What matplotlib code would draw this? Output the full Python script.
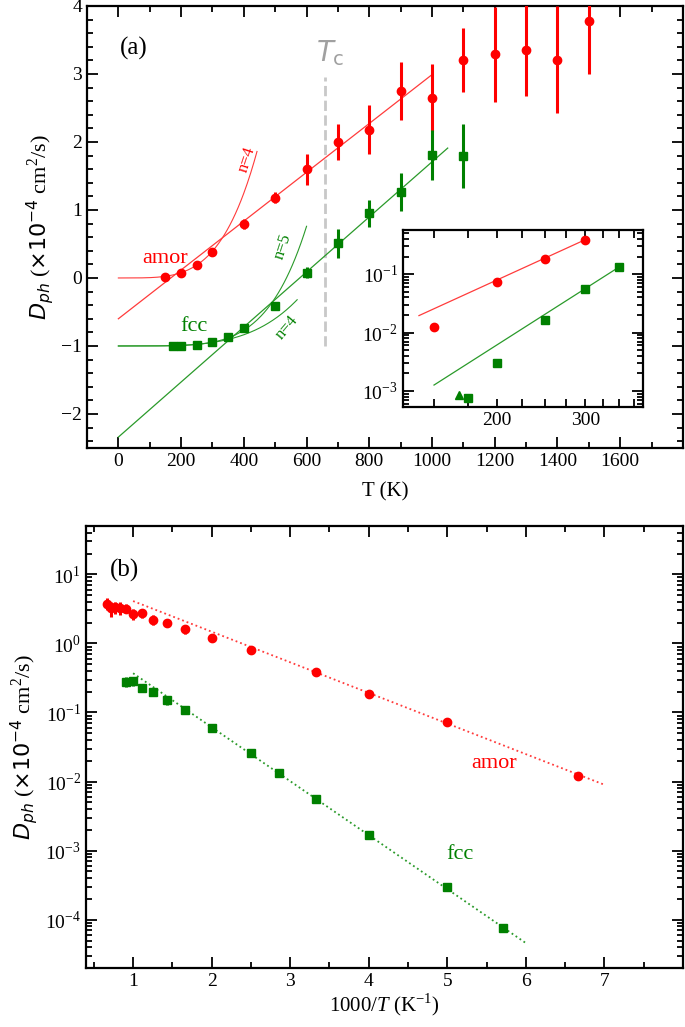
import numpy as np
import matplotlib.pyplot as plt
from matplotlib.ticker import MultipleLocator, FixedLocator, FuncFormatter, NullFormatter

plt.rcParams['font.family'] = ['Liberation Serif', 'DejaVu Sans']
plt.rcParams['mathtext.fontset'] = 'custom'
plt.rcParams['mathtext.rm'] = 'Liberation Serif'
plt.rcParams['mathtext.it'] = 'DejaVu Sans:italic'
plt.rcParams['mathtext.sf'] = 'DejaVu Sans'
plt.rcParams['mathtext.cal'] = 'Liberation Serif:italic'

#datos

T_amor = np.array([150, 200, 250, 300, 400, 500, 600, 700, 800, 900, 1000, 1100, 1200, 1300, 1400, 1500])
D_amor = np.array([0.0122, 0.072, 0.185, 0.38, 0.79, 1.18, 1.60, 2.00, 2.18, 2.75, 2.65, 3.20, 3.29, 3.35, 3.21, 3.78])
E_amor = np.array([0.001, 0.003, 0.008, 0.015, 0.07, 0.08, 0.23, 0.27, 0.36, 0.42, 0.49, 0.47, 0.70, 0.67, 0.79, 0.78])

T_fcc = np.array([175, 200, 250, 300, 350, 400, 500, 600, 700, 800, 900, 1000, 1100])
D_fcc = np.array([7.6e-5, 3.0e-4, 1.67e-3, 5.6e-3, 0.0133, 0.026, 0.059, 0.108, 0.151, 0.195, 0.227, 0.281, 0.279])
E_fcc = np.array([5e-6, 2e-5, 1e-4, 6e-4, 1e-3, 1.5e-3, 3e-3, 8e-3, 0.021, 0.020, 0.028, 0.037, 0.047])

# fcc en (a): x10 y desplazado -1
fcc_scale = 10
fcc_shift = -1

# triangulo del inset
T_tri = [168]
D_tri = [8.5e-4]

# ajustes lineales (a)
amor_lin_T = [0, 1000]
amor_lin_D = [-0.60, 2.99]
fcc_lin_T = [0, 1050]
fcc_lin_D = [-2.34, 1.91]

# ajustes potencia (a): (T final, valor final, n, base)
amor_pw = (442, 1.86, 4, 0.0)
fcc_pw5 = (600, 1.76, 5, -1.0)
fcc_pw4 = (570, 0.68, 4, -1.0)

# lineas del inset
amor_in_T = [140, 300]
amor_in_D = [0.0195, 0.39]
fcc_in_T = [150, 350]
fcc_in_D = [1.26e-3, 0.132]

# ajustes Arrhenius (b)
amor_arr_x = [1, 7]
amor_arr_D = [4.1, 0.009]
fcc_arr_x = [1, 6]
fcc_arr_D = [0.37, 4.6e-5]

Tc = 660

red = '#ff0000'
green = '#008000'
red_l = '#ff3b3b'
green_l = '#2a9a2a'

def estilo(ax):
	for s in ax.spines.values():
		s.set_linewidth(1.6)
	ax.tick_params(which='both', direction='in', top=True, right=True, labelsize=14, width=1.3)
	ax.tick_params(which='major', length=8)
	ax.tick_params(which='minor', length=4.5)

def logfmt(v, p):
	return r'10$^{%d}$' % int(round(np.log10(v)))

def logticks(ax, kmin, kmax, lo, hi):
	mayores = [10.0**k for k in range(kmin, kmax + 1)]
	menores = [m*10.0**k for k in range(kmin - 1, kmax + 1) for m in range(2, 10)]
	menores = [v for v in menores if lo <= v <= hi]
	ax.yaxis.set_major_locator(FixedLocator(mayores))
	ax.yaxis.set_minor_locator(FixedLocator(menores))
	ax.yaxis.set_major_formatter(FuncFormatter(logfmt))
	ax.yaxis.set_minor_formatter(NullFormatter())

ylab = r'$D_{ph}$ ($\mathsf{\times 10^{-4}}$ cm$^2$/s)'

fig = plt.figure(figsize=(6.85, 10.27), dpi=100)

#Panel (a)

ax = fig.add_axes([0.127, 0.5638, 0.870, 0.4304])

ax.plot([Tc, Tc], [-1.0, 2.95], '--', color='#c8c8c8', lw=2, zorder=1)

ax.plot(amor_lin_T, amor_lin_D, '-', color=red_l, lw=0.9)
ax.plot(fcc_lin_T, fcc_lin_D, '-', color=green_l, lw=0.9)

for (Te, ye, n, y0), c in [(amor_pw, red_l), (fcc_pw5, green_l), (fcc_pw4, green_l)]:
	tt = np.linspace(0, Te, 200)
	ax.plot(tt, y0 + ye*(tt/Te)**n, '-', color=c, lw=0.8)

ax.errorbar(T_amor, D_amor, yerr=E_amor, fmt='o', ms=6, color=red, mfc=red, mec=red,
	elinewidth=2.2, capsize=0, zorder=5)
ax.errorbar(T_fcc, fcc_scale*D_fcc + fcc_shift, yerr=fcc_scale*E_fcc, fmt='s', ms=5.5,
	color=green, mfc=green, mec=green, elinewidth=2.2, capsize=0, zorder=5)

ax.text(50, 3.38, '(a)', fontsize=18, ha='center', va='center')
ax.text(674, 3.31, r'$T_{\mathsf{c}}$', fontsize=20, color='#a0a0a0', ha='center', va='center')
ax.text(150, 0.28, 'amor', fontsize=16, color=red, ha='center', va='center')
ax.text(242, -0.72, 'fcc', fontsize=16, color=green, ha='center', va='center')
ax.text(410, 1.74, 'n=4', fontsize=12, color=red, rotation=72, ha='center', va='center')
ax.text(525, 0.46, 'n=5', fontsize=12, color=green, rotation=72, ha='center', va='center')
ax.text(537, -0.73, 'n=4', fontsize=12, color=green, rotation=50, ha='center', va='center')

ax.set_xticks(np.arange(0, 1601, 200))
ax.xaxis.set_minor_locator(MultipleLocator(100))
ax.yaxis.set_major_locator(MultipleLocator(1))
ax.yaxis.set_minor_locator(MultipleLocator(0.2))
ax.set_xlim(-100, 1800)
ax.set_ylim(-2.5, 4)
estilo(ax)
ax.set_xlabel('T (K)', fontsize=15, labelpad=9)
ax.set_ylabel(ylab, fontsize=16, labelpad=4)

#Inset

axi = fig.add_axes([0.588, 0.6037, 0.350, 0.1723])
axi.set_xscale('log')
axi.set_yscale('log')
axi.plot(amor_in_T, amor_in_D, '-', color=red_l, lw=0.9)
axi.plot(fcc_in_T, fcc_in_D, '-', color=green_l, lw=0.9)
axi.plot(T_amor[:4], D_amor[:4], 'o', ms=6, color=red)
axi.plot(T_fcc[:5], fcc_scale*D_fcc[:5], 's', ms=5.5, color=green)
axi.plot(T_tri, D_tri, '^', ms=6, color=green)
axi.xaxis.set_major_locator(FixedLocator([200, 300]))
axi.xaxis.set_minor_locator(FixedLocator([150, 175, 225, 250, 275, 325, 350, 375]))
axi.xaxis.set_major_formatter(FuncFormatter(lambda v, p: '%d' % v))
axi.xaxis.set_minor_formatter(NullFormatter())
logticks(axi, -3, -1, 5.3e-4, 0.57)
axi.set_xlim(130, 390)
axi.set_ylim(5.3e-4, 0.57)
estilo(axi)
axi.tick_params(axis='x', which='both', length=6)

#Panel (b)

bx = fig.add_axes([0.1255, 0.0574, 0.8715, 0.4304])
bx.set_yscale('log')
bx.plot(amor_arr_x, amor_arr_D, ':', color=red_l, lw=1.3)
bx.plot(fcc_arr_x, fcc_arr_D, ':', color=green_l, lw=1.3)
bx.errorbar(1000/T_amor, D_amor, yerr=E_amor, fmt='o', ms=6, color=red, mfc=red, mec=red,
	elinewidth=2.2, capsize=0, zorder=5)
bx.errorbar(1000/T_fcc, D_fcc, yerr=E_fcc, fmt='s', ms=5.5, color=green, mfc=green, mec=green,
	elinewidth=2.2, capsize=0, zorder=5)
bx.text(0.885, 11.4, '(b)', fontsize=18, ha='center', va='center')
bx.text(5.6, 0.018, 'amor', fontsize=16, color=red, ha='center', va='center')
bx.text(5.16, 8.7e-4, 'fcc', fontsize=16, color=green, ha='center', va='center')
bx.set_xticks(np.arange(1, 8))
bx.xaxis.set_minor_locator(MultipleLocator(0.5))
logticks(bx, -4, 1, 2e-5, 50)
bx.set_xlim(0.4, 8)
bx.set_ylim(2e-5, 50)
estilo(bx)
bx.set_xlabel(r'1000/$\mathcal{T}$ (K$^{-1}$)', fontsize=15, labelpad=1)
bx.set_ylabel(ylab, fontsize=16, labelpad=4)

plt.savefig('out.png', dpi=100)
plt.close()
